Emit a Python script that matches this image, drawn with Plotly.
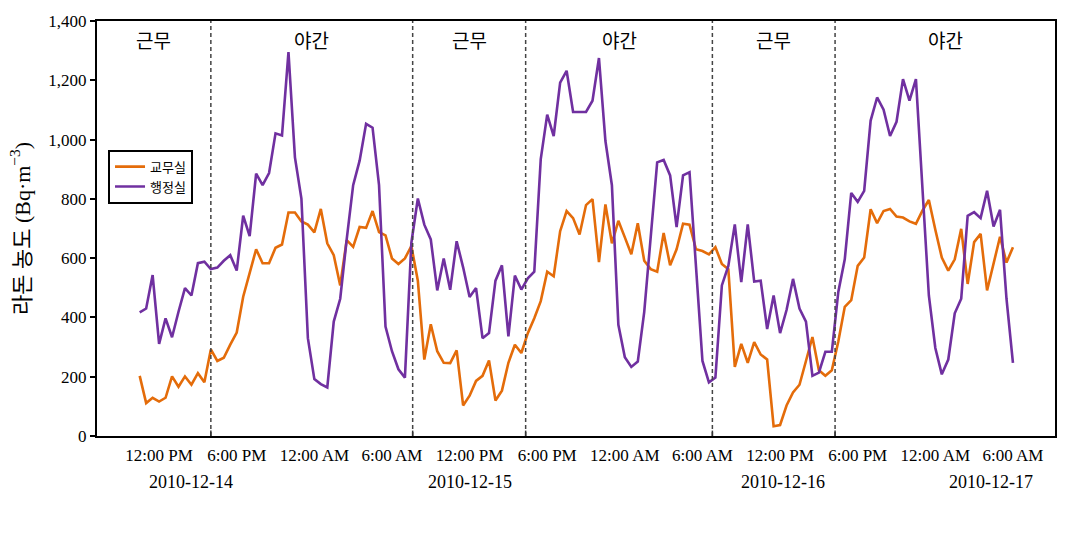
import pandas as pd
import plotly.graph_objects as go

# ---- data (half-hourly samples) ----
start_time = "2010-12-14 10:30"
sample_step = "30min"

office_teachers = [  # 교무실
    203, 111, 129, 116, 129, 201, 166, 201, 173, 212, 181, 292, 253, 264, 308, 349, 470, 555, 630,
    583, 583, 635, 646, 754, 754, 724, 713, 687, 766, 650, 610, 508, 661, 638, 705, 702, 759, 688, 677, 599, 580, 599, 641,
    524, 258, 377, 286, 247, 246, 289, 103, 136, 186, 203, 255, 120, 153, 247, 308, 280, 347, 397, 455, 554, 539, 691, 759,
    735, 680, 779, 799, 587, 781, 650, 726, 670, 613, 718, 591, 563, 554, 685, 576, 630, 716, 713, 630, 624, 613, 637, 580, 563,
    233, 311, 247, 317, 275, 258, 33, 37, 103, 147, 173, 253, 334, 222, 203, 222, 319, 436, 458, 574, 602, 765, 718, 759,
    766, 740, 737, 724, 716, 760, 796, 696, 602, 558, 596, 699, 513, 654, 682, 491, 585, 672, 585, 637,
]
office_admin = [  # 행정실
    417, 430, 543, 311, 397, 333, 419, 499, 474, 583, 588, 563, 568, 591, 610, 558, 743, 674, 885,
    846, 887, 1021, 1014, 1295, 940, 801, 330, 192, 175, 164, 386, 463, 663, 846, 929, 1053, 1040, 846, 369, 286, 225, 197, 652,
    801, 713, 663, 491, 599, 493, 657, 569, 469, 499, 330, 347, 524, 576, 336, 541, 494, 532, 554, 934, 1084, 1012, 1192, 1232,
    1093, 1093, 1093, 1131, 1275, 995, 846, 375, 266, 233, 251, 419, 663, 923, 931, 879, 705, 879, 890, 585, 253, 181, 197, 508, 574,
    714, 519, 714, 521, 524, 361, 474, 347, 425, 530, 430, 386, 203, 214, 284, 284, 486, 596, 820, 790, 827, 1064, 1142, 1101,
    1012, 1060, 1204, 1131, 1204, 840, 474, 297, 208, 258, 414, 463, 743, 755, 735, 827, 707, 763, 463, 247,
]
series_names = ["교무실", "행정실"]

tick_times = ["2010-12-14 12:00", "2010-12-14 18:00", "2010-12-15 00:00", "2010-12-15 06:00",
              "2010-12-15 12:00", "2010-12-15 18:00", "2010-12-16 00:00", "2010-12-16 06:00",
              "2010-12-16 12:00", "2010-12-16 18:00", "2010-12-17 00:00", "2010-12-17 06:00"]
tick_text = ["12:00 PM", "6:00 PM", "12:00 AM", "6:00 AM"] * 3

date_text = ["2010-12-14", "2010-12-15", "2010-12-16", "2010-12-17"]
date_pos = ["2010-12-14 14:30", "2010-12-15 12:00", "2010-12-16 12:15", "2010-12-17 04:20"]

shift_bounds = ["2010-12-14 16:00", "2010-12-15 07:36", "2010-12-15 16:20",
                "2010-12-16 06:46", "2010-12-16 16:15"]
shift_labels = ["근무", "야간", "근무", "야간", "근무", "야간"]

x_range = ["2010-12-14 07:12", "2010-12-17 09:15"]

# ---- figure ----
times = pd.date_range(start_time, periods=len(office_teachers), freq=sample_step)
colors = ["#E46C0A", "#7030A0"]

fig = go.Figure()
for name, vals, col in zip(series_names, [office_teachers, office_admin], colors):
    fig.add_trace(go.Scatter(x=times, y=vals, mode="lines", name=name,
                             line=dict(color=col, width=2.6)))

serif = "Liberation Serif, Times New Roman, Noto Sans CJK KR, serif"
cjk = "Noto Sans CJK KR, sans-serif"

shapes = []
for b in shift_bounds:
    shapes.append(dict(type="line", xref="x", yref="paper", x0=b, x1=b, y0=0, y1=1,
                       line=dict(color="#444444", width=1.5, dash="4px,3px")))
    shapes.append(dict(type="line", xref="x", yref="paper", x0=b, x1=b, y0=0, y1=0.013,
                       line=dict(color="#333333", width=1.5)))

edges = [pd.Timestamp(x_range[0])] + [pd.Timestamp(b) for b in shift_bounds] + [pd.Timestamp(x_range[1])]
annotations = []
for i, lab in enumerate(shift_labels):
    mid = edges[i] + (edges[i + 1] - edges[i]) / 2
    annotations.append(dict(x=mid, y=0.955, xref="x", yref="paper", text=lab,
                            xanchor="center", yanchor="middle",
                            showarrow=False, font=dict(family=cjk, size=19, color="black")))
for t, p in zip(date_text, date_pos):
    annotations.append(dict(x=p, y=-0.112, xref="x", yref="paper", text=t, showarrow=False,
                            xanchor="center", yanchor="middle",
                            font=dict(family=serif, size=18, color="black")))

fig.update_layout(
    width=1074, height=536,
    margin=dict(l=97, r=19, t=14, b=100),
    paper_bgcolor="white", plot_bgcolor="white",
    shapes=shapes, annotations=annotations,
    legend=dict(x=0.0115, y=0.69, xanchor="left", yanchor="top",
                bordercolor="black", borderwidth=2, bgcolor="white",
                font=dict(family=cjk, size=13, color="black"),
                itemwidth=30, tracegroupgap=0),
    xaxis=dict(type="date", range=x_range, tickvals=tick_times, ticktext=tick_text,
               showgrid=False, zeroline=False, ticks="", showline=True, mirror=True,
               linecolor="black", linewidth=2, ticklabelstandoff=3,
               tickfont=dict(family=serif, size=17, color="black")),
    yaxis=dict(range=[0, 1400], dtick=200, tickformat=",", showgrid=False, zeroline=False,
               ticks="outside", ticklen=5, tickcolor="black", tickwidth=1.5,
               showline=True, mirror=True, linecolor="black", linewidth=2,
               tickfont=dict(family=serif, size=17, color="black"),
               title=dict(text="라돈 농도 (Bq·m<sup>−3</sup>)",
                          font=dict(family=serif, size=22, color="black"), standoff=12)),
)

fig.write_html("out.html")
